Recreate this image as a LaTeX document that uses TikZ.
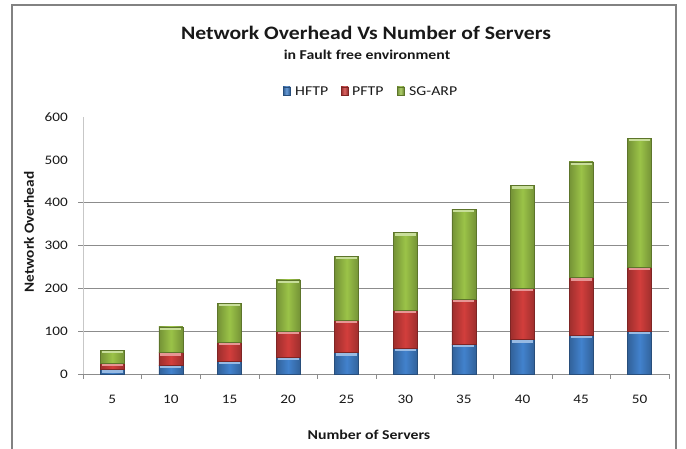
\documentclass[tikz,border=0pt]{standalone}
\usepackage{fontspec}
\setmainfont{Carlito}
\definecolor{hblue}{RGB}{66,130,205}
\definecolor{hred}{RGB}{210,62,60}
\definecolor{hgreen}{RGB}{155,195,72}
\definecolor{framegray}{RGB}{130,130,130}
\definecolor{gridgray}{RGB}{140,140,140}
\newcommand\barseg[4]{%
  \pgfmathsetmacro\segyb{374-(#2)*0.4283}%
  \pgfmathsetmacro\segyt{374-(#3)*0.4283}%
  \shade[left color=#4!75!black, right color=#4!75!black, middle color=#4] ({#1-12},\segyb) rectangle ({#1+12},\segyt);
  \fill[#4!55!white] ({#1-10.5},\segyt) rectangle ({#1+10.5},{\segyt+3});
  \draw[#4!60!black, line width=0.5pt] ({#1-12},\segyb) rectangle ({#1+12},\segyt);
}
\tikzset{
  frameline/.style={draw=framegray, line width=1.3pt},
  gridline/.style={draw=gridgray, line width=0.6pt},
  yaxisline/.style={draw=black!22, line width=0.8pt},
  xaxisline/.style={draw=gridgray, line width=0.6pt},
  txt/.style={inner sep=0pt, xscale=1.17, text=black!90},
  ylab/.style={txt, anchor=east, font=\fontsize{13}{13}\selectfont},
  xlab/.style={txt, anchor=center, font=\fontsize{13}{13}\selectfont},
  legtext/.style={txt, anchor=west, font=\fontsize{13.5}{13.5}\selectfont},
  legbox/.style={line width=0.4pt}
}
\begin{document}
\begin{tikzpicture}[x=1pt,y=-1pt]
\useasboundingbox (0,0) rectangle (686,449);
\fill[white] (0,0) rectangle (686,449);
\draw[frameline] (12,449) -- (12,5) -- (676,5) -- (676,449);
% titles
\node[txt, xscale=0.975, font=\bfseries\fontsize{19}{19}\selectfont] (title) at (366,33) {Network Overhead Vs Number of Servers};
\node[txt, font=\bfseries\fontsize{13.5}{13.5}\selectfont] (subtitle) at (367,55) {in Fault free environment};
% legend
\draw[legbox, draw=hblue!60!black, left color=hblue!70!black, right color=hblue!70!black, middle color=hblue!80!white] (283,87) rectangle (290,95);
\node[legtext] (l1) at (295,91) {HFTP};
\draw[legbox, draw=hred!60!black, left color=hred!70!black, right color=hred!70!black, middle color=hred!80!white] (341,87) rectangle (348,95);
\node[legtext] (l2) at (352,91) {PFTP};
\draw[legbox, draw=hgreen!60!black, left color=hgreen!70!black, right color=hgreen!70!black, middle color=hgreen!80!white] (397,87) rectangle (404,95);
\node[legtext] (l3) at (409,91) {SG-ARP};
% grid
\foreach \v in {100,200,300,400} \draw[gridline] (78,{374-\v*0.4283}) -- (669,{374-\v*0.4283});
\draw[yaxisline] (83,117) -- (83,374);
\draw[xaxisline] (78,374) -- (669,374);
\foreach \i in {0,...,10} \draw[xaxisline] ({83+\i*58.6},374) -- ({83+\i*58.6},379);
\foreach \v in {0,100,...,600} \node[ylab] (y\v) at (68,{374-\v*0.4283}) {\v};
% bars
\foreach \i in {1,...,10} {
  \pgfmathtruncatemacro\nsrv{5*\i}
  \pgfmathsetmacro\bxc{83+(\i-0.5)*58.6}
  \barseg{\bxc}{0}{2*\nsrv}{hblue}
  \barseg{\bxc}{2*\nsrv}{5*\nsrv}{hred}
  \barseg{\bxc}{5*\nsrv}{11*\nsrv}{hgreen}
  \node[xlab] (x\i) at (\bxc,399) {\nsrv};
}
\node[txt, font=\bfseries\fontsize{13.5}{13.5}\selectfont] (xtitle) at (369,435) {Number of Servers};
\node[inner sep=0pt, text=black!90, font=\bfseries\fontsize{14}{14}\selectfont, rotate=90, xscale=1.09] (ytitle) at (29,232) {Network Overhead};
\end{tikzpicture}
\end{document}
